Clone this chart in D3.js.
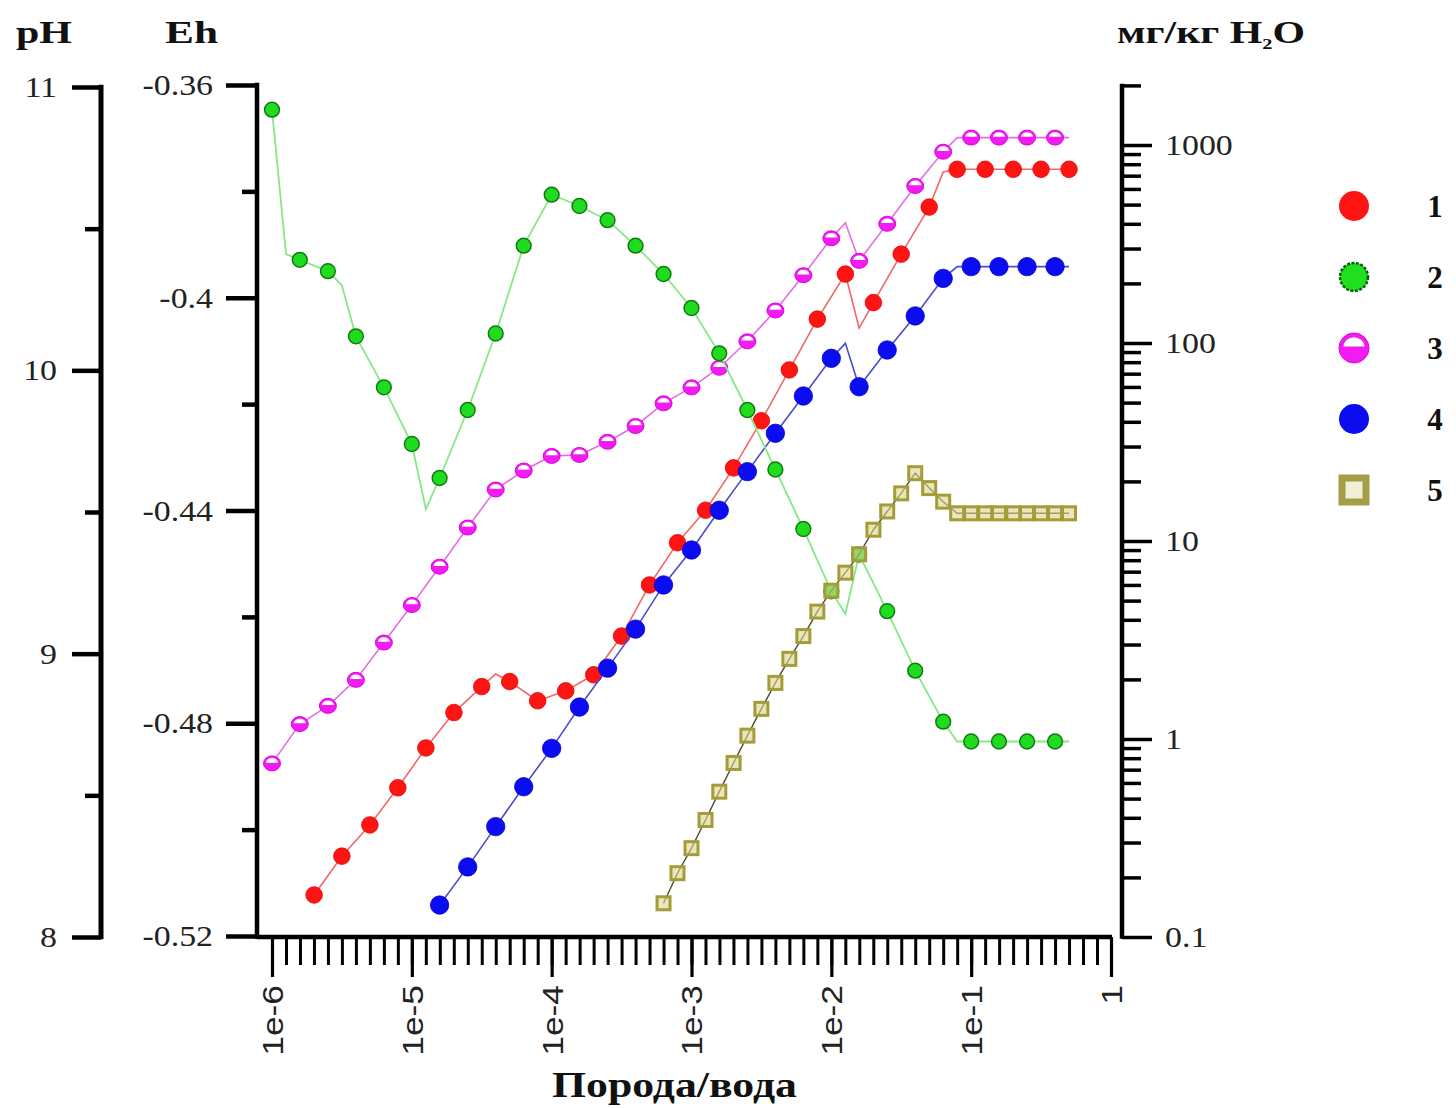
<!DOCTYPE html>
<html><head><meta charset="utf-8">
<script src="https://cdn.jsdelivr.net/npm/d3@7/dist/d3.min.js"></script>
<style>body{margin:0;background:#fff}</style>
</head><body>
<svg id="c" width="1456" height="1108"></svg>
<script>
// ---------- DATA ----------
// Series 2 (green) - pH, markers
const greenX  = [1e-6,1.58e-6,2.51e-6,3.98e-6,6.31e-6,1e-5,1.58e-5,2.51e-5,3.98e-5,6.31e-5,1e-4,1.58e-4,2.51e-4,3.98e-4,6.31e-4,1e-3,1.58e-3,2.51e-3,3.98e-3,6.31e-3,1e-2,1.58e-2,2.51e-2,3.98e-2,6.31e-2,0.1,0.158,0.251,0.398];
const greenPH = [10.92,10.39,10.35,10.12,9.94,9.74,9.62,9.86,10.13,10.44,10.62,10.58,10.53,10.44,10.34,10.22,10.06,9.86,9.65,9.44,9.22,9.35,9.15,8.94,8.76,8.69,8.69,8.69,8.69];
// extra line vertices (between markers)
const greenLineX  = [1.26e-6,3.16e-6,1.26e-5,1.26e-2,7.94e-2,0.501];
const greenLinePH = [10.41,10.30,9.51,9.14,8.69,8.69];

// Series 3 (magenta) - mg/kg H2O
const magX = [1e-6,1.58e-6,2.51e-6,3.98e-6,6.31e-6,1e-5,1.58e-5,2.51e-5,3.98e-5,6.31e-5,1e-4,1.58e-4,2.51e-4,3.98e-4,6.31e-4,1e-3,1.58e-3,2.51e-3,3.98e-3,6.31e-3,1e-2,1.58e-2,2.51e-2,3.98e-2,6.31e-2,0.1,0.158,0.251,0.398];
const magV = [0.753,1.19,1.47,1.99,3.07,4.75,7.42,11.7,18.2,22.7,26.9,27.2,31.7,38.1,49.6,59.7,75.0,102,146,220,338,260,400,621,925,1090,1090,1090,1090];
const magLineX = [1.26e-2,7.94e-2,0.501];
const magLineV = [405,1090,1090];

// Series 1 (red)
const redX = [2e-6,3.16e-6,5.01e-6,7.94e-6,1.26e-5,2e-5,3.16e-5,5.01e-5,7.94e-5,1.26e-4,2e-4,3.16e-4,5.01e-4,7.94e-4,1.26e-3,2e-3,3.16e-3,5.01e-3,7.94e-3,1.26e-2,2e-2,3.16e-2,5.01e-2,7.94e-2,0.126,0.2,0.316,0.501];
const redV = [0.163,0.256,0.368,0.567,0.901,1.36,1.84,1.95,1.56,1.75,2.11,3.31,6.00,9.80,14.3,23.4,40.5,73.1,132,223,160,281,486,754,754,754,754,754];
const redLineX = [3.98e-5,1.58e-2,6.31e-2];
const redLineV = [2.13,119,731];

// Series 4 (blue)
const blueX = [1.58e-5,2.51e-5,3.98e-5,6.31e-5,1e-4,1.58e-4,2.51e-4,3.98e-4,6.31e-4,1e-3,1.58e-3,2.51e-3,3.98e-3,6.31e-3,1e-2,1.58e-2,2.51e-2,3.98e-2,6.31e-2,0.1,0.158,0.251,0.398];
const blueV = [0.145,0.226,0.361,0.574,0.897,1.45,2.28,3.59,6.00,9.01,14.3,22.4,35.0,54.0,83.7,60.1,92.2,137,212,243,243,243,243];
const blueLineX = [1.26e-2,7.94e-2,0.501];
const blueLineV = [99.6,243,243];

// Series 5 (olive squares)
const oliveX = [6.31e-4,7.94e-4,1e-3,1.26e-3,1.58e-3,2e-3,2.51e-3,3.16e-3,3.98e-3,5.01e-3,6.31e-3,7.94e-3,1e-2,1.26e-2,1.58e-2,2e-2,2.51e-2,3.16e-2,3.98e-2,5.01e-2,6.31e-2,7.94e-2,0.1,0.126,0.158,0.2,0.251,0.316,0.398,0.501];
const oliveV = [0.148,0.210,0.281,0.390,0.542,0.757,1.04,1.42,1.92,2.54,3.31,4.40,5.61,6.92,8.57,11.4,14.1,17.4,22.0,18.5,15.8,13.8,13.8,13.8,13.8,13.8,13.8,13.8,13.8,13.8];

// Axis ticks / labels
const phMajor = [8,9,10,11];
const phMinor = [8.5,9.5,10.5];
const phLabels = ["8","9","10","11"];
const ehMajor = [-0.52,-0.48,-0.44,-0.40,-0.36];
const ehMinor = [-0.50,-0.46,-0.42,-0.38];
const ehLabels = ["-0.52","-0.48","-0.44","-0.4","-0.36"];
const cMajor = [0.1,1,10,100,1000];
const cLabels = ["0.1","1","10","100","1000"];
const xMajor = [1e-6,1e-5,1e-4,1e-3,1e-2,1e-1,1];
const xLabels = ["1e-6","1e-5","1e-4","1e-3","1e-2","1e-1","1"];
const legendLabels = ["1","2","3","4","5"];

// ---------- DRAWING ----------
const svg = d3.select("#c");
svg.append("rect").attr("width",1456).attr("height",1108).attr("fill","#fff");
const SERIF = "\"Liberation Serif\", Tinos, \"Times New Roman\", Times, serif";
const SANS = "\"Liberation Sans\", Arimo, Arial, Helvetica, sans-serif";

const x = d3.scaleLog().domain([1e-6,1]).range([272,1111]);
const yPH = d3.scaleLinear().domain([8,11]).range([937,87]);
const yEh = d3.scaleLinear().domain([-0.52,-0.36]).range([936,85]);
const yC = d3.scaleLog().domain([0.1,2000]).range([937,85.4]);

const SX = 1.13; // horizontal stretch of serif tick labels
function styleAxis(g, w){
  g.attr("font-family",SERIF);
  g.select(".domain").remove();
  g.selectAll(".tick line").attr("stroke","#000").attr("stroke-width",w).attr("stroke-linecap","butt");
  g.selectAll(".tick text").attr("font-family",SERIF).attr("font-size",30).attr("fill","#222");
}
function stretchTicks(g){
  g.selectAll(".tick text").each(function(){
    const t = d3.select(this); const xv = +t.attr("x");
    t.attr("x", xv/SX).attr("transform",`scale(${SX},1)`);
  });
}

// pH axis
svg.append("g").attr("transform","translate(101,0)")
  .call(d3.axisLeft(yPH).tickValues(phMinor).tickSize(16).tickFormat(""))
  .call(g=>styleAxis(g,4.5));
svg.append("g").attr("transform","translate(101,0)")
  .call(d3.axisLeft(yPH).tickValues(phMajor).tickSize(29).tickPadding(15).tickFormat((d,i)=>phLabels[i]))
  .call(g=>styleAxis(g,4.5)).call(stretchTicks);
svg.append("line").attr("x1",101).attr("x2",101).attr("y1",yPH(11)-2.25).attr("y2",yPH(8)+2.25)
  .attr("stroke","#000").attr("stroke-width",5);

// Eh axis
svg.append("g").attr("transform","translate(257,0)")
  .call(d3.axisLeft(yEh).tickValues(ehMinor).tickSize(15).tickFormat(""))
  .call(g=>styleAxis(g,4.5));
svg.append("g").attr("transform","translate(257,0)")
  .call(d3.axisLeft(yEh).tickValues(ehMajor).tickSize(31).tickPadding(13).tickFormat((d,i)=>ehLabels[i]))
  .call(g=>styleAxis(g,4.5)).call(stretchTicks);
svg.append("line").attr("x1",257).attr("x2",257).attr("y1",yEh(-0.36)-2.25).attr("y2",937+2)
  .attr("stroke","#000").attr("stroke-width",4.5);

// Right concentration axis
const cMinor = [];
[0.1,1,10,100,1000].forEach(d=>{for(let m=2;m<=9;m++){ if(d*m<=2000.0001) cMinor.push(d*m);} });
svg.append("g").attr("transform","translate(1122,0)")
  .call(d3.axisRight(yC).tickValues(cMinor).tickSize(19).tickFormat(""))
  .call(g=>styleAxis(g,3.5));
svg.append("g").attr("transform","translate(1122,0)")
  .call(d3.axisRight(yC).tickValues(cMajor).tickSize(30).tickPadding(13).tickFormat((d,i)=>cLabels[i]))
  .call(g=>styleAxis(g,3.5)).call(stretchTicks);
svg.append("line").attr("x1",1122).attr("x2",1122).attr("y1",yC(2000)-1.75).attr("y2",yC(0.1)+1.75)
  .attr("stroke","#000").attr("stroke-width",4.5);

// Bottom x axis
const xMinor = d3.range(0,61).map(i=>Math.pow(10,-6+i/10));
svg.append("g").attr("transform","translate(0,937)")
  .call(d3.axisBottom(x).tickValues(xMinor).tickSize(28).tickFormat(""))
  .call(g=>{ g.select(".domain").remove(); g.selectAll(".tick line").attr("stroke","#000").attr("stroke-width",3); });
const gx = svg.append("g").attr("transform","translate(0,937)")
  .call(d3.axisBottom(x).tickValues(xMajor).tickSize(40).tickFormat((d,i)=>xLabels[i]))
  .call(g=>{ g.attr("font-family",SANS); g.select(".domain").remove(); g.selectAll(".tick line").attr("stroke","#000").attr("stroke-width",3.2); });
gx.selectAll(".tick text")
  .attr("font-family",SANS).attr("font-size",29).attr("fill","#222")
  .attr("text-anchor","end").attr("dy","0.36em").attr("y",0)
  .attr("transform","rotate(-90) scale(1.22,1)")
  .attr("x",-48/1.22);
svg.append("line").attr("x1",257).attr("x2",1112).attr("y1",937).attr("y2",937)
  .attr("stroke","#000").attr("stroke-width",4.5);

// ---------- SERIES ----------
function merge(mx,mv,ex,ev){
  const pts = mx.map((d,i)=>[d,mv[i]]).concat(ex.map((d,i)=>[d,ev[i]]));
  return pts.sort((a,b)=>a[0]-b[0]);
}
const lineC = d3.line().x(d=>x(d[0])).y(d=>yC(d[1]));
const linePH = d3.line().x(d=>x(d[0])).y(d=>yPH(d[1]));

const plot = svg.append("g");

// magenta
plot.append("path").datum(merge(magX,magV,magLineX,magLineV)).attr("d",lineC)
  .attr("fill","none").attr("stroke","#e46ee4").attr("stroke-width",1.6);
function halfMarker(g, rx, ry){
  g.append("ellipse").attr("rx",rx).attr("ry",ry).attr("fill","#f21cf2").attr("stroke","#e000e0").attr("stroke-width",1);
  const r2x = rx*0.72, r2y = ry*0.72, c = -ry*0.1;
  const w = r2x*Math.sqrt(1 - (c*c)/(r2y*r2y));
  g.append("path").attr("d",`M${-w},${c} A${r2x},${r2y} 0 0 1 ${w},${c} Z`).attr("fill","#fff");
}
plot.selectAll(".mag").data(magX.map((d,i)=>[d,magV[i]])).join("g")
  .attr("transform",d=>`translate(${x(d[0])},${yC(d[1])})`)
  .each(function(){ halfMarker(d3.select(this),8.5,7.5); });

// red
plot.append("path").datum(merge(redX,redV,redLineX,redLineV)).attr("d",lineC)
  .attr("fill","none").attr("stroke","#f06868").attr("stroke-width",1.6);
plot.selectAll(".red").data(redX.map((d,i)=>[d,redV[i]])).join("circle")
  .attr("cx",d=>x(d[0])).attr("cy",d=>yC(d[1])).attr("r",8.3)
  .attr("fill","#ff1414").attr("stroke","#e80000").attr("stroke-width",0.8);

// blue
plot.append("path").datum(merge(blueX,blueV,blueLineX,blueLineV)).attr("d",lineC)
  .attr("fill","none").attr("stroke","#4c4cc8").attr("stroke-width",1.6);
plot.selectAll(".blue").data(blueX.map((d,i)=>[d,blueV[i]])).join("circle")
  .attr("cx",d=>x(d[0])).attr("cy",d=>yC(d[1])).attr("r",9.2)
  .attr("fill","#0c0cf0").attr("stroke","#0000d0").attr("stroke-width",0.8);

// green
plot.append("path").datum(merge(greenX,greenPH,greenLineX,greenLinePH)).attr("d",linePH)
  .attr("fill","none").attr("stroke","#86e886").attr("stroke-width",1.8);
plot.selectAll(".green").data(greenX.map((d,i)=>[d,greenPH[i]])).join("circle")
  .attr("cx",d=>x(d[0])).attr("cy",d=>yPH(d[1])).attr("r",7.4)
  .attr("fill","#1fdc1f").attr("stroke","#127a12").attr("stroke-width",1.5);

// olive
plot.append("path").datum(oliveX.map((d,i)=>[d,oliveV[i]])).attr("d",lineC)
  .attr("fill","none").attr("stroke","#4a4a3a").attr("stroke-width",1.4);
plot.selectAll(".olive").data(oliveX.map((d,i)=>[d,oliveV[i]])).join("rect")
  .attr("x",d=>x(d[0])-6.5).attr("y",d=>yC(d[1])-6.5).attr("width",13).attr("height",13)
  .attr("fill","rgba(222,214,140,0.6)").attr("stroke","#a39c38").attr("stroke-width",3);

// ---------- LEGEND ----------
const legY = d3.scalePoint().domain(legendLabels).range([206,490]);
const leg = svg.append("g");
legendLabels.forEach((lab,i)=>{
  const g = leg.append("g").attr("transform",`translate(1354,${legY(lab)})`);
  if(i===0) g.append("circle").attr("r",15).attr("fill","#ff1414");
  if(i===1) g.append("circle").attr("r",14).attr("fill","#1fe01f").attr("stroke","#0d5a0d").attr("stroke-width",2.5).attr("stroke-dasharray","3,1.5");
  if(i===2) halfMarker(g,15,15);
  if(i===3) g.append("circle").attr("r",15).attr("fill","#0c0cf0");
  if(i===4) g.append("rect").attr("x",-12).attr("y",-12).attr("width",24).attr("height",24)
      .attr("fill","#f2efd8").attr("stroke","#a59e48").attr("stroke-width",7);
  leg.append("text").attr("x",1435).attr("y",legY(lab)+11).attr("text-anchor","middle")
    .attr("font-family",SERIF).attr("font-weight","bold").attr("font-size",31).attr("fill","#111").text(lab);
});

// ---------- TITLES ----------
function fitText(sel, x0, y0, width){
  const bb = sel.node().getBBox();
  sel.attr("transform",`translate(${x0},${y0}) scale(${width/bb.width},1)`);
}
function title(txt, x0, y0, w, size){
  const t = svg.append("text").attr("x",0).attr("y",0).attr("font-family",SERIF).attr("font-weight","bold")
    .attr("font-size",size).attr("fill","#111").text(txt);
  fitText(t, x0, y0, w);
  return t;
}
title("pH", 16, 43, 56, 31);
title("Eh", 165, 43, 53, 31);
const tc = svg.append("text").attr("x",0).attr("y",0).attr("font-family",SERIF).attr("font-weight","bold")
  .attr("font-size",31).attr("fill","#111");
tc.append("tspan").text("мг/кг H");
tc.append("tspan").attr("font-size",15).attr("dy",6).text("2");
tc.append("tspan").attr("dy",-6).text("O");
fitText(tc, 1117, 43, 188);
title("Порода/вода", 552, 1097, 245, 35);
</script>
</body></html>
